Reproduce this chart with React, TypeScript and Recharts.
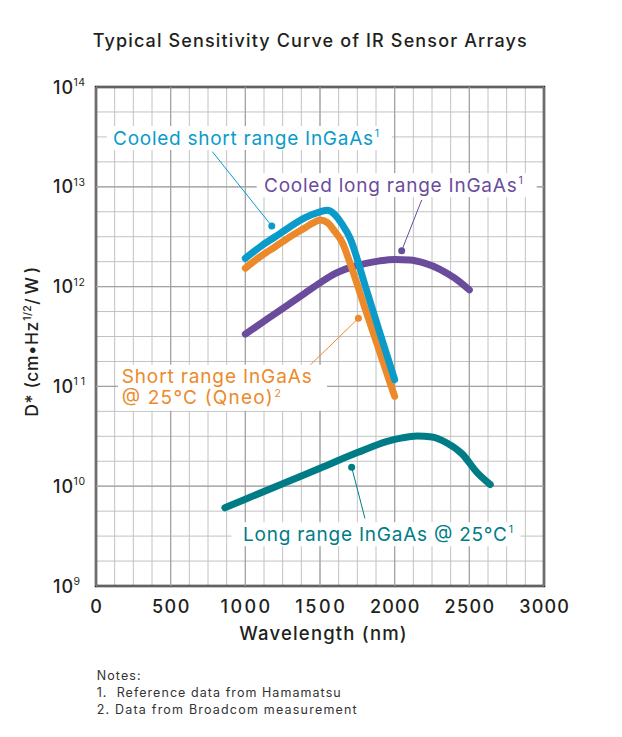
import React from 'react';
import {
  LineChart,
  Line,
  XAxis,
  YAxis,
  CartesianGrid,
  ReferenceArea,
  ReferenceLine,
  ReferenceDot,
} from 'recharts';

const FONT = "Inter, 'Open Sans', 'DejaVu Sans', sans-serif";
const INK = '#231f20';

// ---------- axis ticks ----------
const wavelengthTicks = [
  0, 125, 250, 375, 500, 625, 750, 875, 1000, 1125, 1250, 1375, 1500, 1625, 1750,
  1875, 2000, 2125, 2250, 2375, 2500, 2625, 2750, 2875, 3000,
];
const wavelengthLabels = [0, 500, 1000, 1500, 2000, 2500, 3000];
const dTicks = [
  1e9, 1.778e9, 3.162e9, 5.623e9,
  1e10, 1.778e10, 3.162e10, 5.623e10,
  1e11, 1.778e11, 3.162e11, 5.623e11,
  1e12, 1.778e12, 3.162e12, 5.623e12,
  1e13, 1.778e13, 3.162e13, 5.623e13,
  1e14,
];
const decadeExponents = [9, 10, 11, 12, 13, 14];

// ---------- series ----------
const cooledShortNm = [1000, 1100, 1200, 1300, 1400, 1500, 1550, 1600, 1650, 1700, 1800, 1900, 2000];
const cooledShortD = [1.92e12, 2.51e12, 3.16e12, 3.98e12, 4.9e12, 5.62e12, 5.82e12, 5.25e12, 4.17e12, 3.09e12, 1.05e12, 3.47e11, 1.17e11];

const shortNm = [1000, 1100, 1200, 1300, 1400, 1450, 1500, 1550, 1600, 1650, 1700, 1800, 1900, 2000];
const shortD = [1.53e12, 2.0e12, 2.51e12, 3.16e12, 3.89e12, 4.32e12, 4.65e12, 4.37e12, 3.55e12, 2.75e12, 1.74e12, 6.17e11, 2.21e11, 7.94e10];

const cooledLongNm = [1000, 1100, 1200, 1300, 1400, 1500, 1600, 1700, 1800, 1900, 2000, 2100, 2200, 2300, 2400, 2500];
const cooledLongD = [3.34e11, 4.24e11, 5.36e11, 6.79e11, 8.61e11, 1.09e12, 1.35e12, 1.55e12, 1.7e12, 1.81e12, 1.87e12, 1.85e12, 1.72e12, 1.5e12, 1.22e12, 9.27e11];

const longNm = [863, 1000, 1250, 1500, 1750, 1950, 2050, 2150, 2250, 2350, 2450, 2554, 2640];
const longD = [6.08e9, 7.41e9, 1.06e10, 1.51e10, 2.17e10, 2.82e10, 3.05e10, 3.18e10, 3.11e10, 2.71e10, 2.12e10, 1.36e10, 1.04e10];

const COLORS = {
  cooledShort: '#0a9bcb',
  short: '#ec8a2b',
  cooledLong: '#6b4b9c',
  long: '#007c87',
};

// ---------- annotations (data coordinates) ----------
const blueLabelAt = { nm: 114, d: 3.08e13 };
const blueLeader = [{ nm: 779, d: 2.25e13 }, { nm: 1177, d: 4.05e12 }];
const purpleLabelAt = { nm: 1125, d: 1.04e13 };
const purpleLeader = [{ nm: 2181, d: 7.38e12 }, { nm: 2047, d: 2.29e12 }];
const orangeLabelAt = { nm: 172, d: 1.25e11 };
const orangeLeader = [{ nm: 1422, d: 1.57e11 }, { nm: 1757, d: 4.81e11 }];
const tealLabelAt = { nm: 984, d: 3.3e9 };
const tealLeader = [{ nm: 1801, d: 4.76e9 }, { nm: 1712, d: 1.55e10 }];

const toData = (nm: number[], d: number[]) => nm.map((x, i) => ({ nm: x, d: d[i] }));

const cooledShortData = toData(cooledShortNm, cooledShortD);
const shortData = toData(shortNm, shortD);
const cooledLongData = toData(cooledLongNm, cooledLongD);
const longData = toData(longNm, longD);

const FitText = (p: any) => (
  <text
    x={p.x}
    y={p.y}
    textAnchor={p.anchor || 'start'}
    fontFamily={FONT}
    fontSize={p.size}
    fontWeight={p.weight || 450}
    fill={p.color || INK}
    textLength={p.w}
    lengthAdjust="spacing"
    style={{ whiteSpace: 'pre' }}
  >
    {p.children}
  </text>
);

const tickWidth = (s: string) => (s.length === 1 ? 11.7 : s.length === 3 ? 37.3 : 49.5);

const XTick = (props: any) => {
  const { x, y, payload } = props;
  if (!wavelengthLabels.includes(payload.value)) return <g />;
  const s = String(payload.value);
  return (
    <FitText x={x} y={y + 26.5} anchor="middle" size={18} w={tickWidth(s)}>
      {s}
    </FitText>
  );
};

const YTick = (props: any) => {
  const { x, y, payload } = props;
  const e = Math.log10(payload.value);
  const r = Math.round(e);
  if (Math.abs(e - r) > 1e-6 || !decadeExponents.includes(r)) return <g />;
  return (
    <g>
      <FitText x={x - 23} y={y + 6.5} anchor="end" size={18} w={20}>
        10
      </FitText>
      <FitText x={x - 22.5} y={y - 1} size={10.5} weight={400} w={r >= 10 ? 11.5 : 6}>
        {String(r)}
      </FitText>
    </g>
  );
};

type LabelLine = { text: string; w: number; sup?: string };

const makeLabel = (
  lines: LabelLine[],
  color: string,
  box: { dx: number; w: number; top: number; h: number },
) => (p: any) => {
  const { cx, cy } = p;
  return (
    <g>
      <rect x={cx + box.dx} y={cy + box.top} width={box.w} height={box.h} fill="#ffffff" />
      {lines.map((ln, i) => (
        <g key={i}>
          <FitText x={cx} y={cy + 6.5 + i * 21} size={19} weight={420} color={color} w={ln.w}>
            {ln.text}
          </FitText>
          {ln.sup ? (
            <FitText x={cx + ln.w + 1.8} y={cy - 1 + i * 21} size={10.5} weight={420} color={color} w={ln.sup === '1' ? 4.5 : 6.5}>
              {ln.sup}
            </FitText>
          ) : null}
        </g>
      ))}
    </g>
  );
};

export default function App() {
  return (
    <div style={{ position: 'absolute', left: 0, top: 0, width: 622, height: 737, background: '#fff' }}>
      <LineChart
        width={622}
        height={737}
        margin={{ top: 87, right: 78, bottom: 111, left: 46 }}
      >
        <CartesianGrid stroke="#c2c2c2" strokeWidth={1} />
        <XAxis
          type="number"
          dataKey="nm"
          domain={[0, 3000]}
          ticks={wavelengthTicks}
          interval={0}
          allowDataOverflow
          height={40}
          axisLine={false}
          tickLine={false}
          tickSize={0}
          tickMargin={0}
          tick={<XTick />}
        />
        <YAxis
          type="number"
          scale="log"
          domain={[1e9, 1e14]}
          ticks={dTicks}
          interval={0}
          allowDataOverflow
          width={50}
          axisLine={false}
          tickLine={false}
          tickSize={0}
          tickMargin={0}
          tick={<YTick />}
        />
        {decadeExponents.map((e) => (
          <ReferenceLine key={'h' + e} y={Math.pow(10, e)} stroke="#a2a2a2" strokeWidth={1.2} />
        ))}
        {wavelengthLabels.map((v) => (
          <ReferenceLine key={'v' + v} x={v} stroke="#a2a2a2" strokeWidth={1.2} />
        ))}
        <ReferenceArea x1={0} x2={3000} y1={1e9} y2={1e14} fill="none" fillOpacity={0} stroke={INK} strokeWidth={2.5} ifOverflow="visible" />

        <ReferenceDot
          x={blueLabelAt.nm}
          y={blueLabelAt.d}
          r={1}
          ifOverflow="visible"
          shape={makeLabel([{ text: 'Cooled short range InGaAs', w: 260, sup: '1' }], COLORS.cooledShort, { dx: -6.3, w: 285, top: -12, h: 24 })}
        />
        <ReferenceDot
          x={purpleLabelAt.nm}
          y={purpleLabelAt.d}
          r={1}
          ifOverflow="visible"
          shape={makeLabel([{ text: 'Cooled long range InGaAs', w: 252.7, sup: '1' }], COLORS.cooledLong, { dx: -7.3, w: 280, top: -12, h: 24 })}
        />
        <ReferenceDot
          x={orangeLabelAt.nm}
          y={orangeLabelAt.d}
          r={1}
          ifOverflow="visible"
          shape={makeLabel(
            [
              { text: 'Short range InGaAs', w: 190 },
              { text: '@ 25°C (Qneo)', w: 151, sup: '2' },
            ],
            COLORS.short,
            { dx: -3.7, w: 209, top: -12, h: 46 },
          )}
        />
        <ReferenceDot
          x={tealLabelAt.nm}
          y={tealLabelAt.d}
          r={1}
          ifOverflow="visible"
          shape={makeLabel([{ text: 'Long range InGaAs @ 25°C', w: 264, sup: '1' }], COLORS.long, { dx: -11.3, w: 289, top: -12, h: 24 })}
        />

        <ReferenceLine segment={[{ x: blueLeader[0].nm, y: blueLeader[0].d }, { x: blueLeader[1].nm, y: blueLeader[1].d }]} stroke={COLORS.cooledShort} strokeWidth={1} ifOverflow="visible" />
        <ReferenceLine segment={[{ x: purpleLeader[0].nm, y: purpleLeader[0].d }, { x: purpleLeader[1].nm, y: purpleLeader[1].d }]} stroke={COLORS.cooledLong} strokeWidth={1} ifOverflow="visible" />
        <ReferenceLine segment={[{ x: orangeLeader[0].nm, y: orangeLeader[0].d }, { x: orangeLeader[1].nm, y: orangeLeader[1].d }]} stroke={COLORS.short} strokeWidth={1} ifOverflow="visible" />
        <ReferenceLine segment={[{ x: tealLeader[0].nm, y: tealLeader[0].d }, { x: tealLeader[1].nm, y: tealLeader[1].d }]} stroke={COLORS.long} strokeWidth={1} ifOverflow="visible" />

        <Line data={cooledLongData} dataKey="d" type="monotone" stroke={COLORS.cooledLong} strokeWidth={7} strokeLinecap="round" strokeLinejoin="round" dot={false} activeDot={false} isAnimationActive={false} />
        <Line data={longData} dataKey="d" type="monotone" stroke={COLORS.long} strokeWidth={7} strokeLinecap="round" strokeLinejoin="round" dot={false} activeDot={false} isAnimationActive={false} />
        <Line data={shortData} dataKey="d" type="monotone" stroke={COLORS.short} strokeWidth={7} strokeLinecap="round" strokeLinejoin="round" dot={false} activeDot={false} isAnimationActive={false} />
        <Line data={cooledShortData} dataKey="d" type="monotone" stroke={COLORS.cooledShort} strokeWidth={7} strokeLinecap="round" strokeLinejoin="round" dot={false} activeDot={false} isAnimationActive={false} />

        <ReferenceDot x={blueLeader[1].nm} y={blueLeader[1].d} r={3.5} fill={COLORS.cooledShort} stroke="none" ifOverflow="visible" />
        <ReferenceDot x={purpleLeader[1].nm} y={purpleLeader[1].d} r={3.5} fill={COLORS.cooledLong} stroke="none" ifOverflow="visible" />
        <ReferenceDot x={orangeLeader[1].nm} y={orangeLeader[1].d} r={3.5} fill={COLORS.short} stroke="none" ifOverflow="visible" />
        <ReferenceDot x={tealLeader[1].nm} y={tealLeader[1].d} r={3.5} fill={COLORS.long} stroke="none" ifOverflow="visible" />
      </LineChart>

      <svg width={622} height={737} style={{ position: 'absolute', left: 0, top: 0, pointerEvents: 'none' }}>
        <FitText x={309.7} y={46.5} anchor="middle" size={18} weight={480} w={434}>
          Typical Sensitivity Curve of IR Sensor Arrays
        </FitText>
        <FitText x={239.3} y={639.5} size={18.5} weight={480} w={167.4}>
          Wavelength (nm)
        </FitText>
        <g transform="translate(38,416.7) rotate(-90)">
          <FitText x={0} y={0} size={17.5} weight={480} w={95}>D* (cm•Hz</FitText>
          <FitText x={96} y={-7.5} size={10.5} w={15.5}>1/2</FitText>
          <FitText x={112} y={0} size={17.5} weight={480} w={38}>/W)</FitText>
        </g>
        <FitText x={96.7} y={679.5} size={12.5} weight={400} color="#333" w={44}>Notes:</FitText>
        <FitText x={96.7} y={696.5} size={12.5} weight={400} color="#333" w={244}>1.  Reference data from Hamamatsu</FitText>
        <FitText x={96.7} y={713.5} size={12.5} weight={400} color="#333" w={260}>2. Data from Broadcom measurement</FitText>
      </svg>
    </div>
  );
}
